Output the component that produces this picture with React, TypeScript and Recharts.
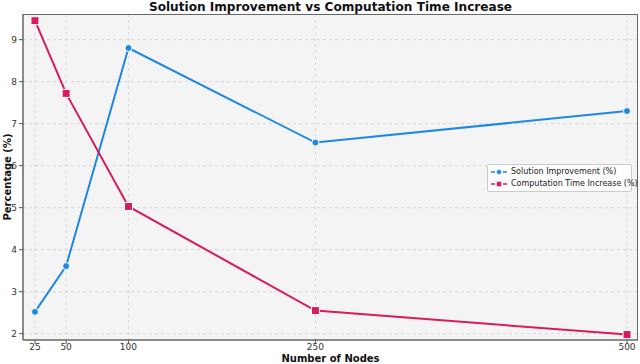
import { LineChart, Line, XAxis, YAxis, CartesianGrid } from 'recharts';

const nodes = [25, 50, 100, 250, 500];
const solutionImprovement = [2.52, 3.61, 8.8, 6.55, 7.3];
const timeIncrease = [9.45, 7.72, 5.03, 2.55, 1.98];
const yTicks = [2, 3, 4, 5, 6, 7, 8, 9];

const BLUE = '#1e88e5';
const RED = '#d81b60';

const data = nodes.map((n, i) => ({
  nodes: n,
  improvement: solutionImprovement[i],
  time: timeIncrease[i],
}));

const legendItems = [
  { label: 'Solution Improvement (%)', color: BLUE, shape: 'circle' },
  { label: 'Computation Time Increase (%)', color: RED, shape: 'square' },
];

const SquareDot = (props: any) => {
  const { cx, cy } = props;
  if (cx == null || cy == null) return null;
  return <rect x={cx - 4} y={cy - 4} width={8} height={8} fill={RED} stroke="#fff" strokeWidth={1} />;
};

export default function App() {
  return (
    <div style={{ position: 'absolute', left: 0, top: 0, width: 640, height: 364, background: '#fff', fontFamily: 'DejaVu Sans, sans-serif' }}>
      <div style={{ position: 'absolute', top: 0, left: 23, width: 615, textAlign: 'center', fontSize: 12.1, lineHeight: '14px', fontWeight: 'bold', color: '#111', whiteSpace: 'nowrap' }}>
        Solution Improvement vs Computation Time Increase
      </div>
      <LineChart width={640} height={364} data={data} margin={{ top: 14, right: 2, left: 0, bottom: 0 }}>
        <CartesianGrid fill="#f4f4f4" stroke="#d8d8d8" strokeDasharray="3 3" horizontalValues={yTicks} verticalValues={nodes} />
        <XAxis
          dataKey="nodes"
          type="number"
          domain={[15.4, 508.8]}
          ticks={nodes}
          height={24}
          tick={{ fontSize: 9, fill: '#333', dy: -2 }}
          tickLine={{ stroke: '#555' }}
          tickSize={4}
          axisLine={{ stroke: '#666', strokeWidth: 1.5 }}
        />
        <YAxis
          type="number"
          domain={[1.85, 9.61]}
          ticks={yTicks}
          width={23}
          tick={{ fontSize: 9, fill: '#333' }}
          tickLine={{ stroke: '#555' }}
          tickSize={4}
          axisLine={{ stroke: '#666', strokeWidth: 1.5 }}
        />
        <Line
          dataKey="improvement"
          name="Solution Improvement (%)"
          stroke={BLUE}
          strokeWidth={2}
          dot={{ r: 3.5, fill: BLUE, stroke: '#fff', strokeWidth: 1 }}
          activeDot={false}
          isAnimationActive={false}
        />
        <Line
          dataKey="time"
          name="Computation Time Increase (%)"
          stroke={RED}
          strokeWidth={2}
          dot={<SquareDot />}
          activeDot={false}
          isAnimationActive={false}
        />
      </LineChart>
      <div style={{ position: 'absolute', left: 23, top: 14, width: 615, height: 326, border: '1px solid #666', boxSizing: 'border-box', pointerEvents: 'none', borderLeftWidth: 0, borderBottomWidth: 0 }} />
      <div
        style={{
          position: 'absolute',
          left: 487,
          top: 164,
          width: 145,
          boxSizing: 'border-box',
          background: 'rgba(255,255,255,0.9)',
          border: '1px solid #ccc',
          borderRadius: 2,
          padding: '1px 3px',
          fontSize: 8,
          color: '#222',
          lineHeight: '12px',
          whiteSpace: 'nowrap',
        }}
      >
        {legendItems.map((item) => (
          <div key={item.label} style={{ display: 'flex', alignItems: 'center' }}>
            <svg width={16} height={10} style={{ marginRight: 4, flexShrink: 0 }}>
              <line x1={0} y1={5} x2={16} y2={5} stroke={item.color} strokeWidth={1.5} strokeDasharray="4 2" />
              {item.shape === 'circle' ? (
                <circle cx={8} cy={5} r={2.5} fill={item.color} stroke="#fff" strokeWidth={0.5} />
              ) : (
                <rect x={5.5} y={2.5} width={5} height={5} fill={item.color} stroke="#fff" strokeWidth={0.5} />
              )}
            </svg>
            <span>{item.label}</span>
          </div>
        ))}
      </div>
      <div style={{ position: 'absolute', top: 353, left: 23, width: 615, textAlign: 'center', fontSize: 10, lineHeight: '11px', fontWeight: 'bold', color: '#111' }}>
        Number of Nodes
      </div>
      <div
        style={{
          position: 'absolute',
          left: 7,
          top: 177,
          transform: 'translate(-50%, -50%) rotate(-90deg)',
          whiteSpace: 'nowrap',
          fontSize: 10,
          lineHeight: '11px',
          fontWeight: 'bold',
          color: '#111',
        }}
      >
        Percentage (%)
      </div>
    </div>
  );
}
